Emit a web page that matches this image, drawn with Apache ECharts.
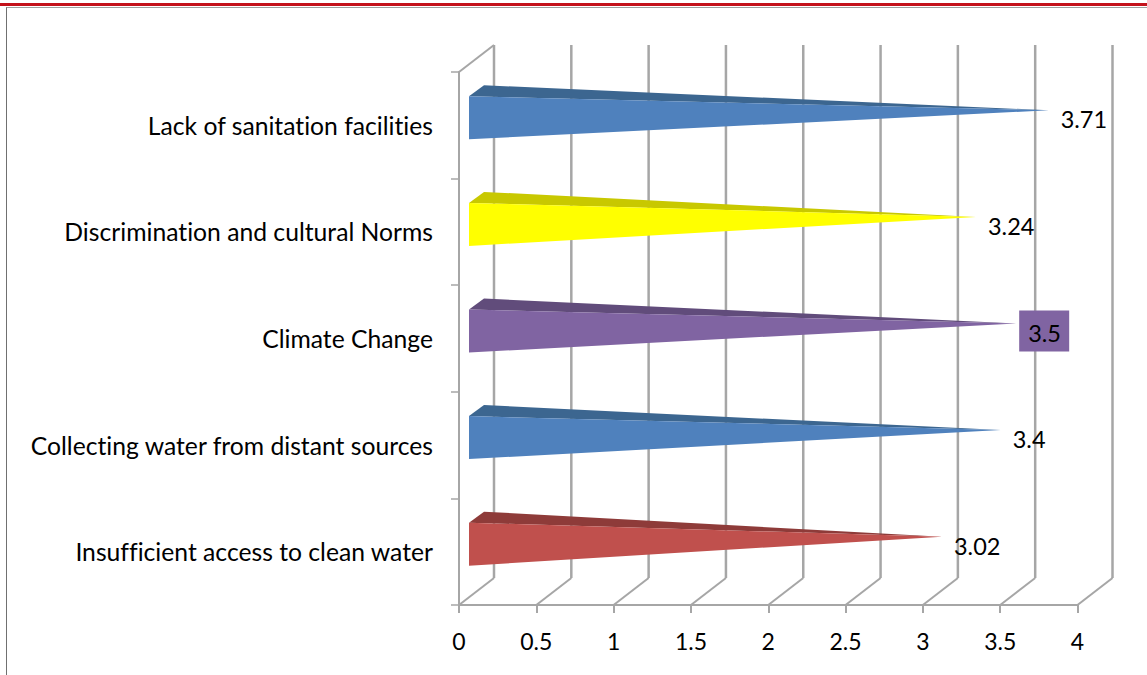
<!DOCTYPE html>
<html><head><meta charset="utf-8">
<style>html,body{margin:0;padding:0;background:#fff}#c{width:1147px;height:675px}#c text{font-variant-ligatures:none}</style>
<script src="https://cdn.jsdelivr.net/npm/echarts@6/dist/echarts.min.js"></script>
</head><body><div id="c"></div>
<script>
const categories = ['Insufficient access to clean water','Collecting water from distant sources','Climate Change','Discrimination and cultural Norms','Lack of sanitation facilities'];
const values = [3.02,3.4,3.5,3.24,3.71];
const frontColors = ['#c0504d','#4f81bd','#8064a2','#ffff00','#4f81bd'];
const topColors = ['#8e3b39','#3c6690','#614c7b','#c8c800','#3c6690'];
const labelBackgrounds = [null,null,'#8064a2',null,null];
const gridTicks = [0,0.5,1,1.5,2,2.5,3,3.5,4];
const axisMax = 4, axisStep = 0.5;

const FONT = 'Lato';
const GRID = '#a6a6a6';
const DX = 35, DY = -27;

const chart = echarts.init(document.getElementById('c'),null,{renderer:'svg'});
chart.setOption({
  animation:false,
  backgroundColor:'#fff',
  graphic:[
    {type:'rect',shape:{x:0,y:3,width:1147,height:3},style:{fill:'#c4111b'},silent:true},
    {type:'line',shape:{x1:6,y1:7.5,x2:1147,y2:7.5},style:{stroke:'#a0a0a0',lineWidth:1},silent:true},
    {type:'line',shape:{x1:6.5,y1:7.5,x2:6.5,y2:675},style:{stroke:'#707070',lineWidth:1},silent:true}
  ],
  grid:{left:459,right:69.5,top:72,bottom:70,containLabel:false},
  xAxis:{type:'value',min:0,max:axisMax,interval:axisStep,splitLine:{show:false},
    axisLine:{show:true,onZero:false,lineStyle:{color:GRID,width:2}},
    axisTick:{show:true,length:8,lineStyle:{color:GRID,width:2}},
    axisLabel:{color:'#000',fontFamily:FONT,fontSize:23,margin:24,showMinLabel:true,showMaxLabel:true,
      formatter:v=>String(v)}},
  yAxis:{type:'category',data:categories,
    axisLine:{show:true,onZero:false,lineStyle:{color:GRID,width:2}},
    axisTick:{show:true,length:8,alignWithLabel:false,lineStyle:{color:GRID,width:1.5}},
    axisLabel:{color:'#000',fontFamily:FONT,fontSize:24.7,margin:26,interval:0,padding:[8,0,0,0]},
    splitLine:{show:false}},
  series:[
    {type:'custom',coordinateSystem:'cartesian2d',clip:false,silent:true,z:1,
     encode:{x:0},data:gridTicks.map(v=>[v]),
     renderItem(params,api){
       const v=api.value(0), band=api.size([0,1])[1];
       const x=api.coord([v,0])[0];
       const bottom=api.coord([0,0])[1]+band/2, top=api.coord([0,categories.length-1])[1]-band/2;
       const children=[{type:'polyline',shape:{points:[[x+DX,bottom+DY],[x+DX,top+DY]]},
         style:{fill:'none',stroke:GRID,lineWidth:2.5}},
         {type:'polyline',shape:{points:[[x,bottom],[x+DX,bottom+DY]]},
         style:{fill:'none',stroke:GRID,lineWidth:2}}];
       if(v===0) children.push({type:'polyline',shape:{points:[[x,top],[x+DX,top+DY]]},
         style:{fill:'none',stroke:GRID,lineWidth:2}});
       return {type:'group',children};
     }},
    {type:'custom',coordinateSystem:'cartesian2d',clip:false,silent:true,z:3,
     encode:{x:0,y:1},data:values.map((v,i)=>[v,i]),
     renderItem(params,api){
       const i=params.dataIndex, v=api.value(0);
       const c=api.coord([v,i]), x0=api.coord([0,i])[0]+10, cy=c[1];
       const apex=[c[0]+16,cy-15], ft=[x0,cy-29], fb=[x0,cy+14], bt=[x0+15,cy-40];
       const t=[c[0]+28,cy-6];
       const bg=labelBackgrounds[i];
       const children=[
         {type:'polygon',shape:{points:[ft,bt,apex]},style:{fill:topColors[i]}},
         {type:'polygon',shape:{points:[ft,fb,apex]},style:{fill:frontColors[i]}}
       ];
       if(bg) children.push({type:'rect',shape:{x:t[0]-9,y:t[1]-22,width:50,height:41},style:{fill:bg}});
       children.push({type:'text',style:{x:t[0],y:t[1],text:String(v),fill:'#000',fontFamily:FONT,fontSize:23.5,align:'left',verticalAlign:'middle'}});
       return {type:'group',children};
     }}
  ]
});
</script></body></html>
